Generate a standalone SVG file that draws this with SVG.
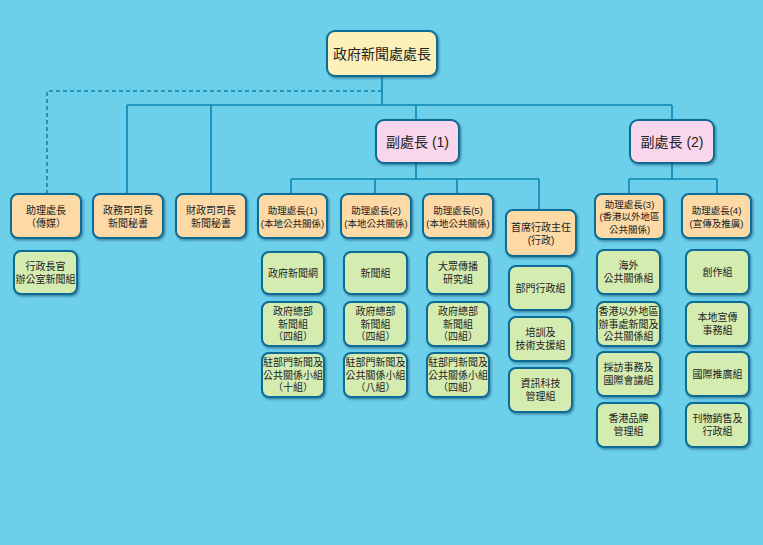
<svg xmlns="http://www.w3.org/2000/svg" width="763" height="545" viewBox="0 0 763 545">
<defs>
<filter id="sh" x="-10%" y="-10%" width="130%" height="130%">
<feDropShadow dx="1.2" dy="1.5" stdDeviation="0.8" flood-color="#0b4a6a" flood-opacity="0.55"/>
</filter>
<style>
.b{stroke:#0a6c96;stroke-width:2;filter:url(#sh)}
.y{fill:#fdf0b9}.p{fill:#f9d6ec}.o{fill:#fdd9a6}.g{fill:#d5ecb1}
text{font-family:"Liberation Sans","Noto Sans CJK TC","Noto Sans CJK SC",sans-serif;fill:#222;text-anchor:middle;dominant-baseline:central}
.s{font-size:10px}.m{font-size:9.5px}.l{font-size:14px}
.c{fill:none;stroke:#0a86b0;stroke-width:1.6}
.d{fill:none;stroke:#0a86b0;stroke-width:1.6;stroke-dasharray:4 3}
</style>
</defs>
<rect width="763" height="545" fill="#6dd0ea"/>
<g id="connectors">
<path class="c" d="M382,76V105M127,105H672M127,105V194M211,105V194M416,105V120M672,105V120"/>
<path class="d" d="M382,91H47V194"/>
<path class="c" d="M416,163V179M291,179H539M291,179V194M375,179V194M457,179V194M539,179V210"/>
<path class="c" d="M672,163V179M629,179H717M629,179V194M717,179V194"/>
</g>
<g id="director"><rect class="b y" x="327" y="31" width="110" height="45" rx="8"/><text class="l" x="382" y="53.5">政府新聞處處長</text></g>
<g id="deputy1"><rect class="b p" x="376" y="120" width="83" height="43" rx="8"/><text class="l" x="417.5" y="141.5">副處長 (1)</text></g>
<g id="deputy2"><rect class="b p" x="630" y="120" width="84" height="43" rx="8"/><text class="l" x="672" y="141.5">副處長 (2)</text></g>

<g id="dd-media"><rect class="b o" x="11" y="194" width="70" height="44" rx="7"/><text class="s" x="46" y="210">助理處長</text><text class="s" x="46" y="223">（傳媒）</text></g>
<g id="cs-press"><rect class="b o" x="93" y="194" width="70" height="44" rx="7"/><text class="s" x="128" y="210">政務司司長</text><text class="s" x="128" y="223">新聞秘書</text></g>
<g id="fs-press"><rect class="b o" x="176" y="194" width="70" height="44" rx="7"/><text class="s" x="211" y="210">財政司司長</text><text class="s" x="211" y="223">新聞秘書</text></g>
<g id="ad1"><rect class="b o" x="258" y="194" width="69" height="44" rx="7"/><text class="m" x="292.5" y="210">助理處長(1)</text><text class="m" x="292.5" y="223">(本地公共關係)</text></g>
<g id="ad2"><rect class="b o" x="341" y="194" width="70" height="44" rx="7"/><text class="m" x="376" y="210">助理處長(2)</text><text class="m" x="376" y="223">(本地公共關係)</text></g>
<g id="ad5"><rect class="b o" x="423" y="194" width="70" height="44" rx="7"/><text class="m" x="458" y="210">助理處長(5)</text><text class="m" x="458" y="223">(本地公共關係)</text></g>
<g id="chief-exec"><rect class="b o" x="506" y="210" width="70" height="46" rx="7"/><text class="s" x="541" y="227">首席行政主任</text><text class="s" x="541" y="240">(行政)</text></g>
<g id="ad3"><rect class="b o" x="595" y="194" width="69" height="45" rx="7"/><text class="m" x="629.5" y="204">助理處長(3)</text><text class="m" x="629.5" y="216.5">(香港以外地區</text><text class="m" x="629.5" y="229">公共關係)</text></g>
<g id="ad4"><rect class="b o" x="682" y="194" width="69" height="44" rx="7"/><text class="m" x="716.5" y="210">助理處長(4)</text><text class="m" x="716.5" y="223">(宣傳及推廣)</text></g>

<g id="ceo-office"><rect class="b g" x="14" y="251" width="63" height="43" rx="7"/><text class="s" x="45.5" y="266">行政長官</text><text class="s" x="45.5" y="279">辦公室新聞組</text></g>
<g id="news-net"><rect class="b g" x="262" y="252" width="62" height="42" rx="7"/><text class="s" x="293" y="273">政府新聞網</text></g>
<g id="news-unit"><rect class="b g" x="344" y="252" width="63" height="42" rx="7"/><text class="s" x="375.5" y="273">新聞組</text></g>
<g id="research"><rect class="b g" x="427" y="252" width="62" height="42" rx="7"/><text class="s" x="458" y="266.5">大眾傳播</text><text class="s" x="458" y="279.5">研究組</text></g>
<g id="hq1"><rect class="b g" x="262" y="302" width="62" height="44" rx="7"/><text class="s" x="293" y="311.5">政府總部</text><text class="s" x="293" y="324">新聞組</text><text class="s" x="293" y="336.5">（四組）</text></g>
<g id="hq2"><rect class="b g" x="344" y="302" width="63" height="44" rx="7"/><text class="s" x="375.5" y="311.5">政府總部</text><text class="s" x="375.5" y="324">新聞組</text><text class="s" x="375.5" y="336.5">（四組）</text></g>
<g id="hq5"><rect class="b g" x="427" y="302" width="62" height="44" rx="7"/><text class="s" x="458" y="311.5">政府總部</text><text class="s" x="458" y="324">新聞組</text><text class="s" x="458" y="336.5">（四組）</text></g>
<g id="dept1"><rect class="b g" x="262" y="353" width="62" height="44" rx="7"/><text class="s" x="293" y="362.5">駐部門新聞及</text><text class="s" x="293" y="375">公共關係小組</text><text class="s" x="293" y="387.5">（十組）</text></g>
<g id="dept2"><rect class="b g" x="344" y="353" width="63" height="44" rx="7"/><text class="s" x="375.5" y="362.5">駐部門新聞及</text><text class="s" x="375.5" y="375">公共關係小組</text><text class="s" x="375.5" y="387.5">（八組）</text></g>
<g id="dept5"><rect class="b g" x="427" y="353" width="62" height="44" rx="7"/><text class="s" x="458" y="362.5">駐部門新聞及</text><text class="s" x="458" y="375">公共關係小組</text><text class="s" x="458" y="387.5">（四組）</text></g>
<g id="admin"><rect class="b g" x="509" y="266" width="63" height="44" rx="7"/><text class="s" x="540.5" y="288">部門行政組</text></g>
<g id="training"><rect class="b g" x="509" y="317" width="63" height="44" rx="7"/><text class="s" x="540.5" y="332.5">培訓及</text><text class="s" x="540.5" y="345.5">技術支援組</text></g>
<g id="it"><rect class="b g" x="509" y="368" width="63" height="44" rx="7"/><text class="s" x="540.5" y="383.5">資訊科技</text><text class="s" x="540.5" y="396.5">管理組</text></g>
<g id="overseas"><rect class="b g" x="597" y="250" width="63" height="44" rx="7"/><text class="s" x="628.5" y="265.5">海外</text><text class="s" x="628.5" y="278.5">公共關係組</text></g>
<g id="offices"><rect class="b g" x="597" y="302" width="63" height="44" rx="7"/><text class="s" x="628.5" y="311.5">香港以外地區</text><text class="s" x="628.5" y="324">辦事處新聞及</text><text class="s" x="628.5" y="336.5">公共關係組</text></g>
<g id="media-conf"><rect class="b g" x="597" y="352" width="63" height="44" rx="7"/><text class="s" x="628.5" y="367.5">採訪事務及</text><text class="s" x="628.5" y="380.5">國際會議組</text></g>
<g id="brand"><rect class="b g" x="597" y="403" width="63" height="44" rx="7"/><text class="s" x="628.5" y="418.5">香港品牌</text><text class="s" x="628.5" y="431.5">管理組</text></g>
<g id="creative"><rect class="b g" x="686" y="250" width="63" height="44" rx="7"/><text class="s" x="717.5" y="272">創作組</text></g>
<g id="local-promo"><rect class="b g" x="686" y="302" width="63" height="44" rx="7"/><text class="s" x="717.5" y="317.5">本地宣傳</text><text class="s" x="717.5" y="330.5">事務組</text></g>
<g id="intl-promo"><rect class="b g" x="686" y="352" width="63" height="44" rx="7"/><text class="s" x="717.5" y="374">國際推廣組</text></g>
<g id="publications"><rect class="b g" x="686" y="403" width="63" height="44" rx="7"/><text class="s" x="717.5" y="418.5">刊物銷售及</text><text class="s" x="717.5" y="431.5">行政組</text></g>
</svg>
